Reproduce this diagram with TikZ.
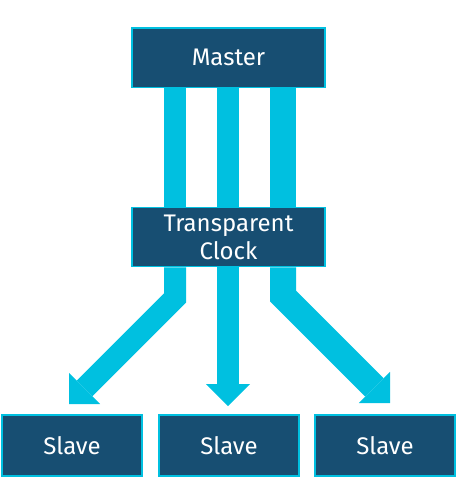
\documentclass[tikz,border=0pt]{standalone}
\usepackage{fontspec}
\setmainfont{Fira Sans}
\usetikzlibrary{arrows.meta}
\definecolor{boxblue}{RGB}{23,78,114}
\definecolor{flowcyan}{RGB}{0,192,224}

\begin{document}
\begin{tikzpicture}[x=0.75pt, y=-0.75pt,
    box/.style={draw=flowcyan, line width=1.1pt, fill=boxblue, text=white,
      inner sep=0pt, align=center, font=\fontsize{18}{21}\selectfont},
    bigbox/.style={box, minimum width=144.75pt, minimum height=44.6pt},
    slavebox/.style={box, minimum width=105pt, minimum height=45.75pt},
    flow/.style={draw=flowcyan, line width=16.5pt},
    flowtip/.style={flow, -{Triangle[width=33pt, length=16.5pt, line width=0pt]}}]
  \useasboundingbox (0,0) rectangle (455,501);

  % Boxes
  \node[bigbox] (master) at (228.5,57.5) {Master};
  \node[bigbox] (tc) at (228.5,237) {Transparent\\Clock};
  \foreach \x/\name in {72/s1, 229/s2, 385/s3}
    \node[slavebox] (\name) at (\x,445.5) {Slave};

  % Master to transparent clock
  \foreach \x in {175, 228}
    \draw[flow] (master.south -| \x,0) -- (tc.north -| \x,0);
  \draw[flow, line width=19.5pt] (master.south -| 283,0) -- (tc.north -| 283,0);

  % Transparent clock to slaves
  \coordinate (lbend) at (175,298);
  \coordinate (ltip) at (69,404);
  \coordinate (mtip) at (228,406);
  \coordinate (rbend) at (283,296);
  \coordinate (rtip) at (390,403);
  \draw[flowtip] (tc.south -| lbend) -- (lbend) -- (ltip);
  \draw[flowtip] (tc.south -| mtip) -- (mtip);
  \draw[flowtip, line width=19.5pt] (tc.south -| rbend) -- (rbend) -- (rtip);
\end{tikzpicture}
\end{document}
